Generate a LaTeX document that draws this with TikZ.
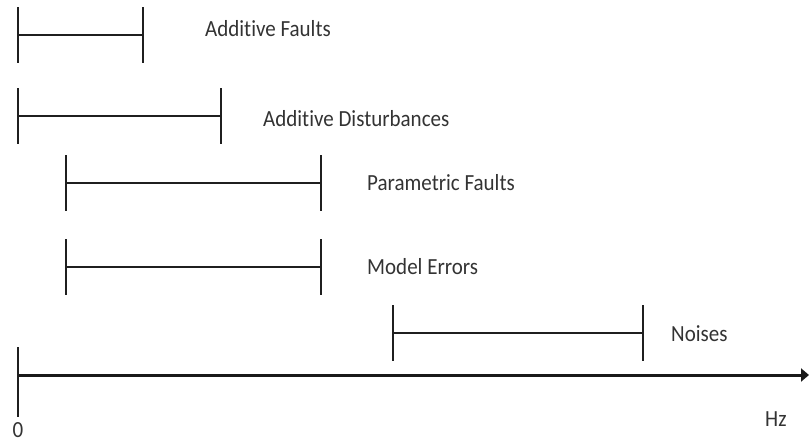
\documentclass[tikz,border=0pt]{standalone}
\usepackage{fontspec}
\setmainfont[Ligatures=NoCommon]{Carlito}
\usetikzlibrary{arrows.meta}
\newcommand\tallword[1]{\scalebox{1}[1.1]{#1}}
\begin{document}
\begin{tikzpicture}[x=1pt,y=-1pt,
  bar/.style={line width=1.3pt, draw=black!88},
  lbl/.style={anchor=base west, inner sep=0pt, text=black!80,
              font=\fontsize{21}{25}\selectfont},
  axisline/.style={line width=3pt, draw=black!90,
                   -{Triangle[length=8pt,width=13pt]}}]
\useasboundingbox (0,0) rectangle (809,442);

% frequency bands: name / left end / right end / height
\foreach \n/\a/\b/\y in {af/18/143/35, ad/18/221/116, pf/66/321/183,
                         me/66/321/267, no/393/643/333} {
  \coordinate (\n-l) at (\a,\y);
  \coordinate (\n-r) at (\b,\y);
  \draw[bar] (\n-l) -- (\n-r);
  \draw[bar] ([yshift=28pt]\n-l) -- ([yshift=-28pt]\n-l);
  \draw[bar] ([yshift=28pt]\n-r) -- ([yshift=-28pt]\n-r);
}

% band labels
\node[lbl] (laf) at (205,36)  {\tallword{Additive Faults}};
\node[lbl] (lad) at (263,126) {\tallword{Additive Disturbances}};
\node[lbl] (lpf) at (367,190) {\tallword{Parametric Faults}};
\node[lbl] (lme) at (367,274) {\tallword{Model Errors}};
\node[lbl] (lno) at (671,341) {\tallword{Noises}};

% frequency axis
\coordinate (o) at (18,375);
\coordinate (xend) at (809,375);
\coordinate (ttop) at (18,347);
\coordinate (tbot) at (18,417);
\draw[axisline] (o) -- (xend);
\draw[bar] (ttop) -- (tbot);
\node[lbl, anchor=base] (zero) at (18,437) {\tallword{0}};
\node[lbl] (hz) at (765,426) {\tallword{Hz}};
\end{tikzpicture}
\end{document}
